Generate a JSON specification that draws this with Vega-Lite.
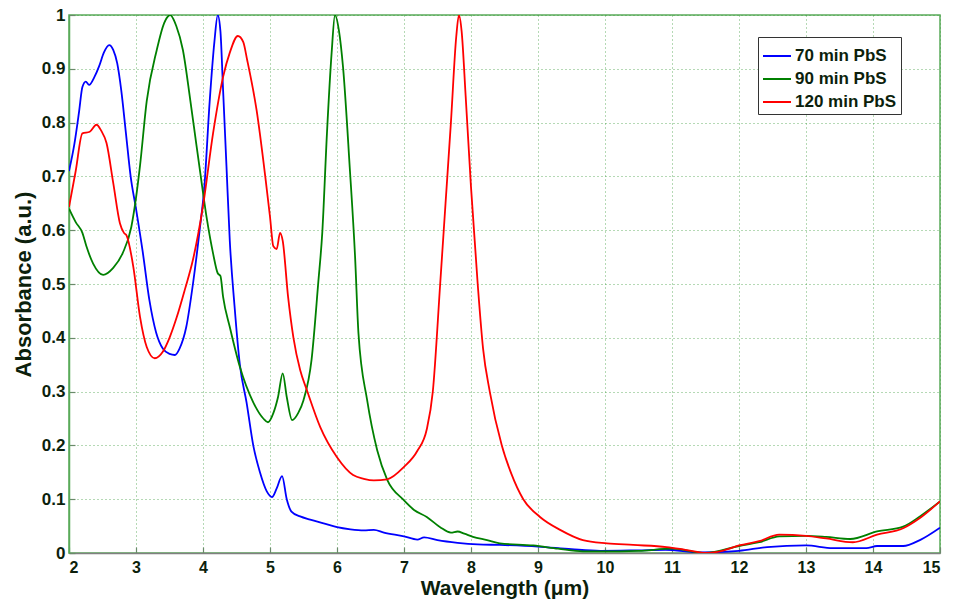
{
  "$schema": "https://vega.github.io/schema/vega-lite/v6.json",
  "width": 871,
  "height": 538,
  "autosize": {"type": "none"},
  "padding": {"left": 69, "top": 15, "right": 14, "bottom": 49},
  "background": "white",
  "config": {
    "view": {"stroke": "#5aaa5a", "strokeWidth": 1.5},
    "axis": {
      "labelFont": "Liberation Sans",
      "labelFontWeight": "bold",
      "labelFontSize": 17,
      "labelColor": "#0c1f0c",
      "titleFont": "Liberation Sans",
      "titleFontWeight": "bold",
      "titleFontSize": 22,
      "titleColor": "#0c1f0c",
      "grid": true,
      "gridColor": "#3a9a3a",
      "gridDash": [1, 3],
      "gridOpacity": 0.75,
      "gridWidth": 1,
      "tickColor": "#6a8a6a",
      "tickSize": -6,
      "tickWidth": 1.2,
      "labelPadding": 10
    }
  },
  "data": {
    "values": [
      {"s": "70 min PbS", "x": 2.00, "y": 0.71},
      {"s": "70 min PbS", "x": 2.08, "y": 0.76},
      {"s": "70 min PbS", "x": 2.15, "y": 0.82},
      {"s": "70 min PbS", "x": 2.20, "y": 0.866},
      {"s": "70 min PbS", "x": 2.25, "y": 0.876},
      {"s": "70 min PbS", "x": 2.30, "y": 0.870},
      {"s": "70 min PbS", "x": 2.38, "y": 0.885},
      {"s": "70 min PbS", "x": 2.45, "y": 0.905},
      {"s": "70 min PbS", "x": 2.52, "y": 0.93},
      {"s": "70 min PbS", "x": 2.60, "y": 0.944},
      {"s": "70 min PbS", "x": 2.66, "y": 0.935},
      {"s": "70 min PbS", "x": 2.72, "y": 0.91},
      {"s": "70 min PbS", "x": 2.78, "y": 0.86},
      {"s": "70 min PbS", "x": 2.85, "y": 0.78},
      {"s": "70 min PbS", "x": 2.92, "y": 0.70},
      {"s": "70 min PbS", "x": 3.00, "y": 0.64},
      {"s": "70 min PbS", "x": 3.10, "y": 0.56},
      {"s": "70 min PbS", "x": 3.20, "y": 0.47},
      {"s": "70 min PbS", "x": 3.30, "y": 0.41},
      {"s": "70 min PbS", "x": 3.40, "y": 0.38},
      {"s": "70 min PbS", "x": 3.50, "y": 0.37},
      {"s": "70 min PbS", "x": 3.58, "y": 0.368},
      {"s": "70 min PbS", "x": 3.65, "y": 0.38},
      {"s": "70 min PbS", "x": 3.75, "y": 0.42},
      {"s": "70 min PbS", "x": 3.85, "y": 0.50},
      {"s": "70 min PbS", "x": 3.95, "y": 0.60},
      {"s": "70 min PbS", "x": 4.02, "y": 0.68},
      {"s": "70 min PbS", "x": 4.10, "y": 0.84},
      {"s": "70 min PbS", "x": 4.17, "y": 0.95},
      {"s": "70 min PbS", "x": 4.22, "y": 1.0},
      {"s": "70 min PbS", "x": 4.26, "y": 0.97},
      {"s": "70 min PbS", "x": 4.30, "y": 0.86},
      {"s": "70 min PbS", "x": 4.35, "y": 0.72},
      {"s": "70 min PbS", "x": 4.40, "y": 0.58},
      {"s": "70 min PbS", "x": 4.47, "y": 0.46},
      {"s": "70 min PbS", "x": 4.55, "y": 0.35},
      {"s": "70 min PbS", "x": 4.65, "y": 0.28},
      {"s": "70 min PbS", "x": 4.75, "y": 0.20},
      {"s": "70 min PbS", "x": 4.85, "y": 0.15},
      {"s": "70 min PbS", "x": 4.95, "y": 0.115},
      {"s": "70 min PbS", "x": 5.03, "y": 0.104},
      {"s": "70 min PbS", "x": 5.10, "y": 0.12},
      {"s": "70 min PbS", "x": 5.18, "y": 0.143},
      {"s": "70 min PbS", "x": 5.25, "y": 0.10},
      {"s": "70 min PbS", "x": 5.32, "y": 0.077},
      {"s": "70 min PbS", "x": 5.45, "y": 0.068},
      {"s": "70 min PbS", "x": 5.60, "y": 0.062},
      {"s": "70 min PbS", "x": 5.80, "y": 0.055},
      {"s": "70 min PbS", "x": 6.00, "y": 0.048},
      {"s": "70 min PbS", "x": 6.20, "y": 0.044},
      {"s": "70 min PbS", "x": 6.40, "y": 0.042},
      {"s": "70 min PbS", "x": 6.55, "y": 0.043},
      {"s": "70 min PbS", "x": 6.70, "y": 0.038},
      {"s": "70 min PbS", "x": 7.00, "y": 0.031},
      {"s": "70 min PbS", "x": 7.20, "y": 0.025},
      {"s": "70 min PbS", "x": 7.30, "y": 0.029},
      {"s": "70 min PbS", "x": 7.50, "y": 0.024},
      {"s": "70 min PbS", "x": 7.80, "y": 0.019},
      {"s": "70 min PbS", "x": 8.10, "y": 0.016},
      {"s": "70 min PbS", "x": 8.43, "y": 0.015},
      {"s": "70 min PbS", "x": 9.00, "y": 0.012},
      {"s": "70 min PbS", "x": 9.50, "y": 0.007},
      {"s": "70 min PbS", "x": 9.93, "y": 0.004},
      {"s": "70 min PbS", "x": 10.50, "y": 0.005},
      {"s": "70 min PbS", "x": 10.90, "y": 0.006},
      {"s": "70 min PbS", "x": 11.42, "y": 0.001},
      {"s": "70 min PbS", "x": 12.00, "y": 0.004},
      {"s": "70 min PbS", "x": 12.42, "y": 0.011},
      {"s": "70 min PbS", "x": 13.00, "y": 0.014},
      {"s": "70 min PbS", "x": 13.40, "y": 0.009},
      {"s": "70 min PbS", "x": 13.90, "y": 0.009},
      {"s": "70 min PbS", "x": 14.06, "y": 0.013},
      {"s": "70 min PbS", "x": 14.45, "y": 0.013},
      {"s": "70 min PbS", "x": 14.70, "y": 0.024},
      {"s": "70 min PbS", "x": 15.00, "y": 0.047},

      {"s": "90 min PbS", "x": 2.00, "y": 0.64},
      {"s": "90 min PbS", "x": 2.10, "y": 0.615},
      {"s": "90 min PbS", "x": 2.20, "y": 0.595},
      {"s": "90 min PbS", "x": 2.26, "y": 0.57},
      {"s": "90 min PbS", "x": 2.36, "y": 0.538},
      {"s": "90 min PbS", "x": 2.51, "y": 0.517},
      {"s": "90 min PbS", "x": 2.66, "y": 0.53},
      {"s": "90 min PbS", "x": 2.80, "y": 0.557},
      {"s": "90 min PbS", "x": 2.93, "y": 0.606},
      {"s": "90 min PbS", "x": 3.00, "y": 0.66},
      {"s": "90 min PbS", "x": 3.06, "y": 0.72},
      {"s": "90 min PbS", "x": 3.16, "y": 0.84},
      {"s": "90 min PbS", "x": 3.31, "y": 0.935},
      {"s": "90 min PbS", "x": 3.42, "y": 0.985},
      {"s": "90 min PbS", "x": 3.51, "y": 1.0},
      {"s": "90 min PbS", "x": 3.60, "y": 0.98},
      {"s": "90 min PbS", "x": 3.70, "y": 0.935},
      {"s": "90 min PbS", "x": 3.81, "y": 0.842},
      {"s": "90 min PbS", "x": 3.90, "y": 0.76},
      {"s": "90 min PbS", "x": 3.96, "y": 0.706},
      {"s": "90 min PbS", "x": 4.06, "y": 0.619},
      {"s": "90 min PbS", "x": 4.15, "y": 0.557},
      {"s": "90 min PbS", "x": 4.22, "y": 0.52},
      {"s": "90 min PbS", "x": 4.26, "y": 0.515},
      {"s": "90 min PbS", "x": 4.30, "y": 0.476},
      {"s": "90 min PbS", "x": 4.40, "y": 0.42},
      {"s": "90 min PbS", "x": 4.55, "y": 0.346},
      {"s": "90 min PbS", "x": 4.75, "y": 0.28},
      {"s": "90 min PbS", "x": 4.90, "y": 0.25},
      {"s": "90 min PbS", "x": 4.97, "y": 0.243},
      {"s": "90 min PbS", "x": 5.05, "y": 0.26},
      {"s": "90 min PbS", "x": 5.12, "y": 0.29},
      {"s": "90 min PbS", "x": 5.19, "y": 0.334},
      {"s": "90 min PbS", "x": 5.25, "y": 0.29},
      {"s": "90 min PbS", "x": 5.33, "y": 0.247},
      {"s": "90 min PbS", "x": 5.42, "y": 0.26},
      {"s": "90 min PbS", "x": 5.50, "y": 0.284},
      {"s": "90 min PbS", "x": 5.62, "y": 0.359},
      {"s": "90 min PbS", "x": 5.72, "y": 0.502},
      {"s": "90 min PbS", "x": 5.78, "y": 0.595},
      {"s": "90 min PbS", "x": 5.85, "y": 0.78},
      {"s": "90 min PbS", "x": 5.92, "y": 0.93},
      {"s": "90 min PbS", "x": 5.97, "y": 1.0},
      {"s": "90 min PbS", "x": 6.03, "y": 0.97},
      {"s": "90 min PbS", "x": 6.09, "y": 0.903},
      {"s": "90 min PbS", "x": 6.19, "y": 0.717},
      {"s": "90 min PbS", "x": 6.27, "y": 0.55},
      {"s": "90 min PbS", "x": 6.32, "y": 0.409},
      {"s": "90 min PbS", "x": 6.45, "y": 0.284},
      {"s": "90 min PbS", "x": 6.60, "y": 0.191},
      {"s": "90 min PbS", "x": 6.75, "y": 0.136},
      {"s": "90 min PbS", "x": 6.99, "y": 0.099},
      {"s": "90 min PbS", "x": 7.15, "y": 0.08},
      {"s": "90 min PbS", "x": 7.34, "y": 0.067},
      {"s": "90 min PbS", "x": 7.54, "y": 0.048},
      {"s": "90 min PbS", "x": 7.70, "y": 0.038},
      {"s": "90 min PbS", "x": 7.80, "y": 0.04},
      {"s": "90 min PbS", "x": 7.90, "y": 0.036},
      {"s": "90 min PbS", "x": 8.03, "y": 0.03},
      {"s": "90 min PbS", "x": 8.24, "y": 0.024},
      {"s": "90 min PbS", "x": 8.43, "y": 0.018},
      {"s": "90 min PbS", "x": 8.93, "y": 0.014},
      {"s": "90 min PbS", "x": 9.30, "y": 0.008},
      {"s": "90 min PbS", "x": 9.67, "y": 0.003},
      {"s": "90 min PbS", "x": 9.93, "y": 0.003},
      {"s": "90 min PbS", "x": 10.50, "y": 0.004},
      {"s": "90 min PbS", "x": 11.00, "y": 0.008},
      {"s": "90 min PbS", "x": 11.50, "y": 0.0},
      {"s": "90 min PbS", "x": 12.00, "y": 0.013},
      {"s": "90 min PbS", "x": 12.30, "y": 0.02},
      {"s": "90 min PbS", "x": 12.60, "y": 0.031},
      {"s": "90 min PbS", "x": 13.00, "y": 0.032},
      {"s": "90 min PbS", "x": 13.30, "y": 0.03},
      {"s": "90 min PbS", "x": 13.66, "y": 0.026},
      {"s": "90 min PbS", "x": 14.06, "y": 0.04},
      {"s": "90 min PbS", "x": 14.45, "y": 0.049},
      {"s": "90 min PbS", "x": 14.70, "y": 0.068},
      {"s": "90 min PbS", "x": 15.00, "y": 0.096},

      {"s": "120 min PbS", "x": 2.00, "y": 0.643},
      {"s": "120 min PbS", "x": 2.10, "y": 0.71},
      {"s": "120 min PbS", "x": 2.20, "y": 0.78},
      {"s": "120 min PbS", "x": 2.31, "y": 0.783},
      {"s": "120 min PbS", "x": 2.41, "y": 0.796},
      {"s": "120 min PbS", "x": 2.48, "y": 0.785},
      {"s": "120 min PbS", "x": 2.56, "y": 0.762},
      {"s": "120 min PbS", "x": 2.66, "y": 0.688},
      {"s": "120 min PbS", "x": 2.76, "y": 0.613},
      {"s": "120 min PbS", "x": 2.82, "y": 0.595},
      {"s": "120 min PbS", "x": 2.86, "y": 0.59},
      {"s": "120 min PbS", "x": 2.96, "y": 0.532},
      {"s": "120 min PbS", "x": 3.06, "y": 0.439},
      {"s": "120 min PbS", "x": 3.16, "y": 0.383},
      {"s": "120 min PbS", "x": 3.28, "y": 0.362},
      {"s": "120 min PbS", "x": 3.40, "y": 0.374},
      {"s": "120 min PbS", "x": 3.50, "y": 0.40},
      {"s": "120 min PbS", "x": 3.61, "y": 0.439},
      {"s": "120 min PbS", "x": 3.73, "y": 0.49},
      {"s": "120 min PbS", "x": 3.85, "y": 0.545},
      {"s": "120 min PbS", "x": 4.00, "y": 0.645},
      {"s": "120 min PbS", "x": 4.15, "y": 0.78},
      {"s": "120 min PbS", "x": 4.30, "y": 0.885},
      {"s": "120 min PbS", "x": 4.40, "y": 0.93},
      {"s": "120 min PbS", "x": 4.52, "y": 0.961},
      {"s": "120 min PbS", "x": 4.60, "y": 0.95},
      {"s": "120 min PbS", "x": 4.66, "y": 0.916},
      {"s": "120 min PbS", "x": 4.80, "y": 0.823},
      {"s": "120 min PbS", "x": 4.93, "y": 0.699},
      {"s": "120 min PbS", "x": 5.00, "y": 0.625},
      {"s": "120 min PbS", "x": 5.05, "y": 0.57},
      {"s": "120 min PbS", "x": 5.10, "y": 0.565},
      {"s": "120 min PbS", "x": 5.15, "y": 0.595},
      {"s": "120 min PbS", "x": 5.19, "y": 0.58},
      {"s": "120 min PbS", "x": 5.27, "y": 0.476},
      {"s": "120 min PbS", "x": 5.35, "y": 0.40},
      {"s": "120 min PbS", "x": 5.45, "y": 0.34},
      {"s": "120 min PbS", "x": 5.55, "y": 0.303},
      {"s": "120 min PbS", "x": 5.75, "y": 0.234},
      {"s": "120 min PbS", "x": 6.00, "y": 0.178},
      {"s": "120 min PbS", "x": 6.24, "y": 0.145},
      {"s": "120 min PbS", "x": 6.40, "y": 0.138},
      {"s": "120 min PbS", "x": 6.55, "y": 0.135},
      {"s": "120 min PbS", "x": 6.75, "y": 0.137},
      {"s": "120 min PbS", "x": 7.00, "y": 0.16},
      {"s": "120 min PbS", "x": 7.20, "y": 0.19},
      {"s": "120 min PbS", "x": 7.34, "y": 0.23},
      {"s": "120 min PbS", "x": 7.43, "y": 0.30},
      {"s": "120 min PbS", "x": 7.54, "y": 0.50},
      {"s": "120 min PbS", "x": 7.62, "y": 0.65},
      {"s": "120 min PbS", "x": 7.70, "y": 0.80},
      {"s": "120 min PbS", "x": 7.78, "y": 0.96},
      {"s": "120 min PbS", "x": 7.82, "y": 1.0},
      {"s": "120 min PbS", "x": 7.86, "y": 0.97},
      {"s": "120 min PbS", "x": 7.92, "y": 0.85},
      {"s": "120 min PbS", "x": 8.00, "y": 0.68},
      {"s": "120 min PbS", "x": 8.10, "y": 0.50},
      {"s": "120 min PbS", "x": 8.18, "y": 0.38},
      {"s": "120 min PbS", "x": 8.28, "y": 0.30},
      {"s": "120 min PbS", "x": 8.46, "y": 0.20},
      {"s": "120 min PbS", "x": 8.60, "y": 0.148},
      {"s": "120 min PbS", "x": 8.78, "y": 0.10},
      {"s": "120 min PbS", "x": 9.03, "y": 0.067},
      {"s": "120 min PbS", "x": 9.33, "y": 0.043},
      {"s": "120 min PbS", "x": 9.67, "y": 0.024},
      {"s": "120 min PbS", "x": 10.03, "y": 0.018},
      {"s": "120 min PbS", "x": 10.42, "y": 0.015},
      {"s": "120 min PbS", "x": 10.92, "y": 0.011},
      {"s": "120 min PbS", "x": 11.20, "y": 0.006},
      {"s": "120 min PbS", "x": 11.52, "y": 0.0},
      {"s": "120 min PbS", "x": 11.75, "y": 0.004},
      {"s": "120 min PbS", "x": 12.00, "y": 0.014},
      {"s": "120 min PbS", "x": 12.30, "y": 0.022},
      {"s": "120 min PbS", "x": 12.60, "y": 0.034},
      {"s": "120 min PbS", "x": 13.00, "y": 0.032},
      {"s": "120 min PbS", "x": 13.30, "y": 0.027},
      {"s": "120 min PbS", "x": 13.70, "y": 0.02},
      {"s": "120 min PbS", "x": 14.06, "y": 0.034},
      {"s": "120 min PbS", "x": 14.45, "y": 0.046},
      {"s": "120 min PbS", "x": 14.70, "y": 0.065},
      {"s": "120 min PbS", "x": 15.00, "y": 0.096}
    ]
  },
  "mark": {"type": "line", "strokeWidth": 1.8, "clip": true, "interpolate": "monotone"},
  "encoding": {
    "x": {
      "field": "x",
      "type": "quantitative",
      "scale": {"domain": [2, 15], "nice": false, "zero": false},
      "axis": {
        "title": "Wavelength (μm)",
        "values": [2, 3, 4, 5, 6, 7, 8, 9, 10, 11, 12, 13, 14, 15],
        "format": "d",
        "domainColor": "#808080",
        "domainWidth": 1.5,
        "labelFontSize": 16,
        "labelPadding": 12,
        "titleFontSize": 21,
        "titlePadding": 2
      }
    },
    "y": {
      "field": "y",
      "type": "quantitative",
      "scale": {"domain": [0, 1], "nice": false},
      "axis": {
        "title": "Absorbance (a.u.)",
        "values": [0, 0.1, 0.2, 0.3, 0.4, 0.5, 0.6, 0.7, 0.8, 0.9, 1],
        "format": ".1~f",
        "domainColor": "#5aaa5a",
        "domainWidth": 1.5,
        "titlePadding": 6
      }
    },
    "color": {
      "field": "s",
      "type": "nominal",
      "scale": {
        "domain": ["70 min PbS", "90 min PbS", "120 min PbS"],
        "range": ["#0000ff", "#008000", "#ff0000"]
      },
      "legend": {
        "title": null,
        "orient": "none",
        "legendX": 689,
        "legendY": 22,
        "symbolType": "stroke",
        "symbolSize": 784,
        "symbolStrokeWidth": 2,
        "labelFont": "Liberation Sans",
        "labelFontWeight": "bold",
        "labelFontSize": 17,
        "labelColor": "#0c1f0c",
        "labelOffset": 3,
        "strokeColor": "#333333",
        "fillColor": "white",
        "padding": 4,
        "rowPadding": -6
      }
    }
  }
}
